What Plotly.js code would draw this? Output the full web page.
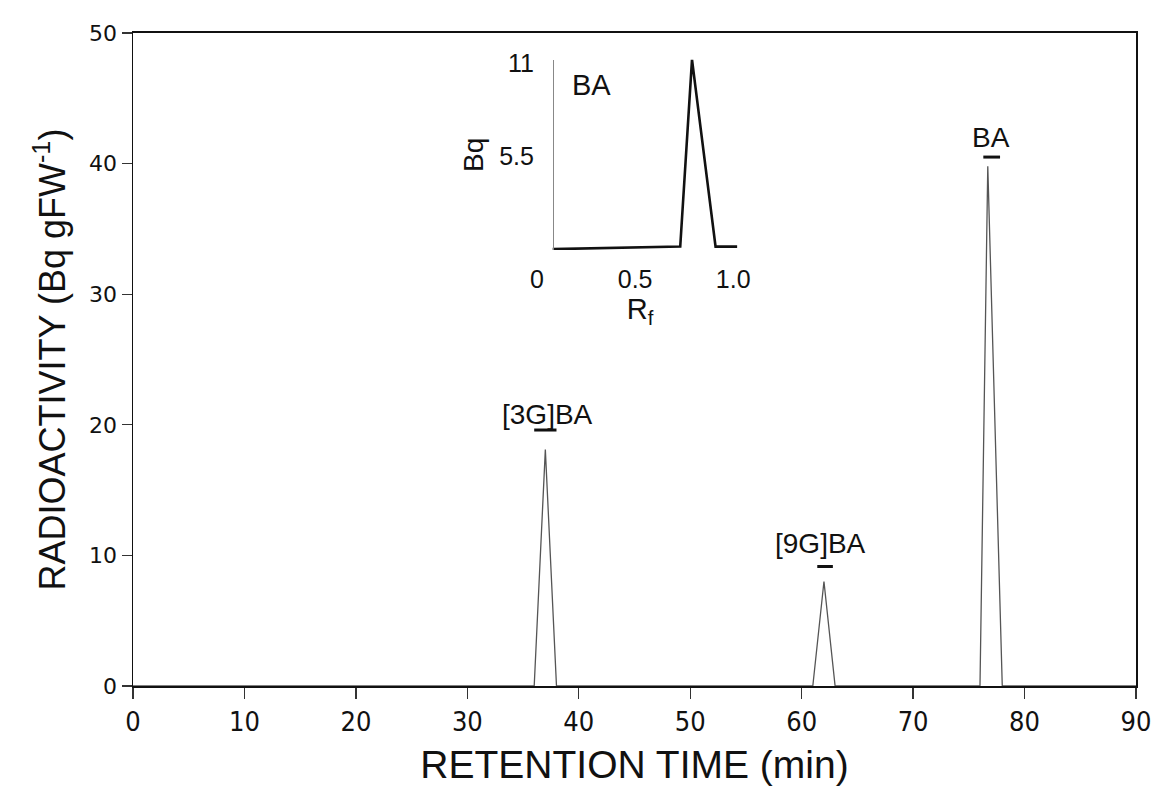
<!DOCTYPE html>
<html>
<head>
<meta charset="utf-8">
<script src="https://cdn.plot.ly/plotly-3.0.1.min.js"></script>
<style>
  html, body { margin: 0; padding: 0; background: #ffffff; }
  #chart { width: 1158px; height: 798px; }
</style>
</head>
<body>
<div id="chart"></div>
<script>
// ---- main chromatogram data ----
const retentionTime = [0, 36, 37, 38, 61, 62, 63, 76, 76.7, 78, 90];
const radioactivity = [0, 0, 18.1, 0, 0, 8.0, 0, 0, 39.8, 0, 0];

// ---- peak labels ----
const peakLabels = ['[3G]BA', '[9G]BA', 'BA'];
const labelX = [37.2, 61.7, 77.0];
const labelY = [20.8, 10.9, 42.0];
const barStart = [36.0, 61.4, 76.3];
const barEnd = [38.0, 62.8, 77.8];
const barLevel = [19.6, 9.15, 40.5];

// ---- inset (TLC) data ----
const rfValues = [0.08, 0.73, 0.79, 0.91, 1.02];
const bqValues = [0.05, 0.2, 11.2, 0.2, 0.2];
const insetLabel = 'BA';

// ---- tick labels ----
const xTicks = [0, 10, 20, 30, 40, 50, 60, 70, 80, 90];
const yTicks = [0, 10, 20, 30, 40, 50];
const insetXTicks = [0, 0.5, 1.0];
const insetXText = ['0', '0.5', '1.0'];
const insetYTicks = [5.5, 11];
const insetYText = ['5.5', '11'];

const SANS = 'Liberation Sans, Arial, Helvetica, sans-serif';
const WIDE = 'DejaVu Sans, Verdana, sans-serif';
const NARROW = 'Liberation Sans Narrow, Arial Narrow, DejaVu Sans Condensed, Liberation Sans, sans-serif';

const traces = [
  {
    x: retentionTime, y: radioactivity,
    type: 'scatter', mode: 'lines',
    line: { color: '#555555', width: 1.3 },
    xaxis: 'x', yaxis: 'y', hoverinfo: 'x+y', showlegend: false
  },
  {
    x: rfValues, y: bqValues,
    type: 'scatter', mode: 'lines',
    line: { color: '#111111', width: 2.6 },
    xaxis: 'x2', yaxis: 'y2', hoverinfo: 'x+y', showlegend: false
  }
];

const annotations = peakLabels.map((t, i) => ({
  x: labelX[i], y: labelY[i], xref: 'x', yref: 'y',
  text: t, showarrow: false,
  font: { family: SANS, size: 28, color: '#111' }
}));
annotations.push({
  x: 0.28, y: 9.7, xref: 'x2', yref: 'y2',
  text: insetLabel, showarrow: false,
  font: { family: SANS, size: 29, color: '#111' }
});

const shapes = barStart.map((x0, i) => ({
  type: 'line', xref: 'x', yref: 'y',
  x0: x0, x1: barEnd[i], y0: barLevel[i], y1: barLevel[i],
  line: { color: '#111', width: 3 }
}));

const layout = {
  width: 1158, height: 798,
  margin: { l: 133, r: 22, t: 33, b: 112 },
  paper_bgcolor: '#ffffff', plot_bgcolor: '#ffffff',
  showlegend: false,
  font: { family: SANS, color: '#111' },
  xaxis: {
    domain: [0, 1], range: [0, 90],
    tickvals: xTicks, ticks: 'outside', ticklen: 11, tickwidth: 1.3, tickcolor: '#333',
    showline: true, linecolor: '#111', linewidth: 2, mirror: true,
    showgrid: false, zeroline: false,
    tickfont: { family: NARROW, size: 27, color: '#111' },
    title: { text: 'RETENTION TIME (min)', font: { family: SANS, size: 39, color: '#111' }, standoff: 14 }
  },
  yaxis: {
    domain: [0, 1], range: [0, 50],
    tickvals: yTicks, ticks: 'outside', ticklen: 10, tickwidth: 1.3, tickcolor: '#333',
    showline: true, linecolor: '#111', linewidth: 1.5, mirror: true,
    showgrid: false, zeroline: false,
    tickfont: { family: WIDE, size: 22, color: '#111' },
    title: { text: 'RADIOACTIVITY (Bq gFW<sup>-1</sup>)', font: { family: SANS, size: 36, color: '#111' }, standoff: 12 }
  },
  xaxis2: {
    domain: [0.4028, 0.6082], range: [0, 1.05], anchor: 'y2',
    tickvals: insetXTicks, ticktext: insetXText, ticks: '', ticklabelstandoff: 12,
    showline: false, showgrid: false, zeroline: false,
    tickfont: { family: SANS, size: 25, color: '#111' },
    title: { text: 'R<sub>f</sub>', font: { family: SANS, size: 29, color: '#111' }, standoff: 6 }
  },
  yaxis2: {
    domain: [0.6677, 0.9593], range: [0, 11.2], anchor: 'free', position: 0.4187,
    tickvals: insetYTicks, ticktext: insetYText, ticks: '', ticklabelstandoff: 14,
    showline: true, linecolor: '#888', linewidth: 1.2,
    showgrid: false, zeroline: false,
    tickfont: { family: SANS, size: 25, color: '#111' },
    title: { text: 'Bq', font: { family: SANS, size: 28, color: '#111' }, standoff: 6 }
  },
  annotations: annotations,
  shapes: shapes
};

Plotly.newPlot('chart', traces, layout, { displayModeBar: false, staticPlot: true });
</script>
</body>
</html>
